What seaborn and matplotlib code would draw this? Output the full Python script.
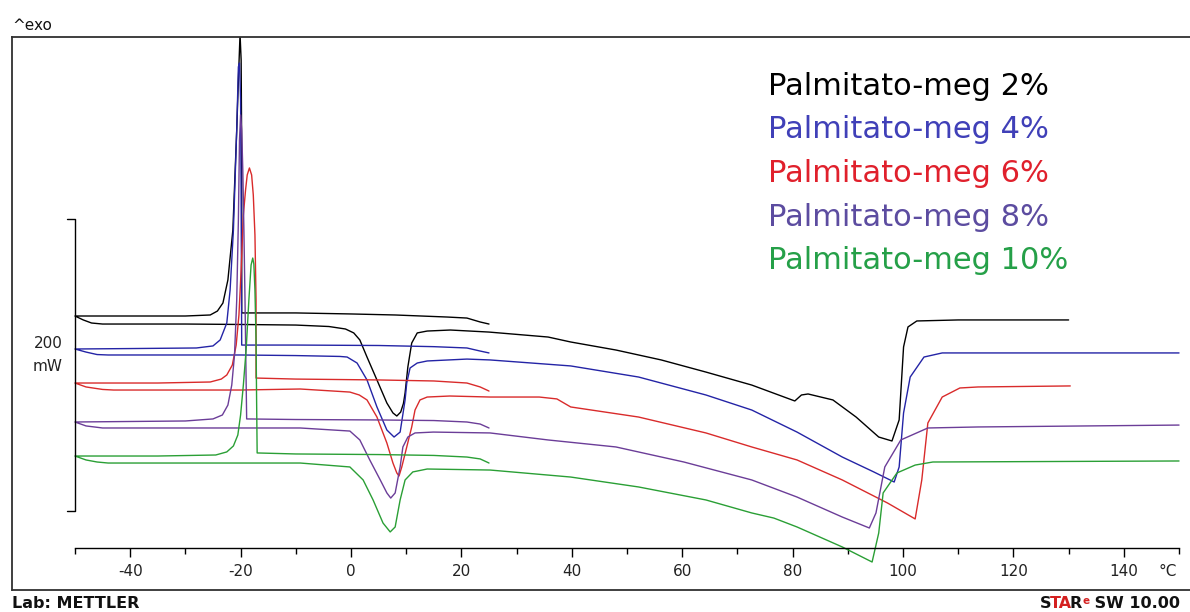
import matplotlib
matplotlib.use("Agg")
import matplotlib.pyplot as plt
import seaborn as sns

# ---------------- data (temperature in °C, heat flow in mW) ----------------
# Black: Palmitato-meg 2%
black_cool_T = [25, 23.4, 21, 17.4, 8, 0, -10, -19.8, -19.8, -19.9, -20.1, -20.4, -20.7, -21.4,
                -22.3, -23.2, -24.2, -25.5, -30, -40, -50]
black_cool_mW = [153.4, 154.8, 157.5, 158.2, 159.6, 160.3, 161.0, 161.0, 272.6, 334.2, 352.0, 320.5,
                 286.3, 217.8, 183.6, 167.8, 162.3, 159.6, 158.9, 158.9, 158.9]
black_heat_T = [-50, -48.5, -47, -45, -30, -20, -10, -4, -1, 0.5, 1.6, 2.9, 4.7, 6.5, 7.6, 8.3, 9.0,
                9.5, 9.8, 10.3, 11, 12, 13.8, 18, 25, 35.7, 39.8, 48, 56.2, 64.3, 72.6, 80.4, 81.6,
                82.8, 87.3, 91.5, 95.6, 98, 99.3, 100.1, 100.9, 102.5, 110, 130]
black_heat_mW = [158.9, 156.2, 154.1, 153.4, 153.4, 153.1, 152.7, 151.7, 150.0, 147.3, 142.5, 130.8,
                 115.1, 99.3, 92.5, 90.4, 93.1, 99.0, 106.2, 124.0, 140.4, 147.3, 148.6, 149.3,
                 147.9, 144.5, 141.1, 135.6, 128.8, 120.5, 111.6, 100.7, 104.8, 105.5, 101.4, 89.7,
                 76.0, 73.3, 87.7, 137.7, 151.4, 155.5, 156.2, 156.2]

# Blue: Palmitato-meg 4%
blue_cool_T = [25, 23.4, 21, 15, 5, -10, -19.8, -19.9, -20.0, -20.2, -20.4, -20.7, -21.3, -21.9,
               -22.5, -23.7, -25, -28, -40, -50]
blue_cool_mW = [133.6, 134.9, 137.0, 137.9, 138.7, 139.0, 139.0, 238.4, 306.8, 332.2, 329.5, 286.3,
                217.8, 176.7, 154.1, 142.5, 138.4, 137.0, 136.6, 136.3]
blue_heat_T = [-50, -48, -46, -44, -20, -10, -2, -0.7, 1.1, 2.9, 4.7, 6.5, 7.8, 8.9, 9.8, 10.1,
               10.7, 12, 13.8, 21, 25.2, 39.8, 52.1, 64.3, 72.6, 80.8, 89, 94.7, 98.4, 99.3, 100.1,
               101.3, 103.8, 107.1, 150]
blue_heat_mW = [136.3, 134.2, 132.5, 132.2, 132.2, 131.8, 131.2, 130.8, 126.7, 115.1, 96.6, 80.8,
                76.0, 79.4, 101.4, 113.0, 123.3, 126.7, 128.1, 129.4, 128.8, 124.7, 117.1, 104.8,
                94.5, 79.4, 62.3, 52.1, 45.2, 55.5, 92.5, 117.1, 130.8, 133.6, 133.6]

# Red: Palmitato-meg 6%
red_cool_T = [25, 23.4, 21, 15, 5, -10, -17.2, -17.2, -17.4, -17.7, -18.0, -18.4, -18.8, -19.1,
              -19.5, -19.9, -20.3, -20.8, -21.5, -22.5, -23.5, -25.5, -35, -50]
red_cool_mW = [107.5, 110.3, 113.0, 114.4, 115.1, 115.7, 116.4, 169.9, 214.4, 241.8, 255.5, 260.3,
               255.5, 245.2, 228.1, 190.4, 159.6, 139.0, 125.3, 118.5, 115.7, 113.7, 113.0, 113.0]
red_heat_T = [-50, -48, -45, -43, -20, -9.2, -0.2, 1.5, 2.9, 4.7, 6.5, 7.6, 8.3, 8.7, 9.2, 10.1,
              11, 11.6, 12.5, 13.8, 17.9, 25.2, 34.1, 37.3, 39.8, 52.1, 64.3, 72.6, 80.8, 89,
              97.2, 102.2, 103.4, 104.5, 107.1, 110.3, 113.6, 130.3]
red_heat_mW = [113.0, 110.3, 108.6, 108.2, 108.2, 108.9, 106.8, 104.8, 101.4, 89.7, 71.9, 58.2,
               51.4, 49.3, 55.5, 69.2, 82.9, 94.5, 101.4, 103.4, 104.1, 103.4, 103.4, 102.1, 96.6,
               89.7, 78.8, 69.2, 60.3, 46.6, 30.8, 19.9, 46.6, 85.6, 103.4, 109.6, 110.3, 111.0]

# Purple: Palmitato-meg 8%
purple_cool_T = [25, 23.4, 21, 15, 5, -10, -18.9, -19.0, -19.2, -19.4, -19.6, -19.8, -20.0, -20.2,
                 -20.4, -20.7, -21.1, -21.6, -22.3, -23.3, -25, -30, -50]
purple_cool_mW = [82.2, 84.9, 86.3, 87.3, 87.7, 88.0, 88.4, 115.1, 169.9, 217.8, 258.9, 286.3,
                  296.6, 279.4, 224.7, 169.9, 132.2, 111.6, 97.9, 91.1, 88.4, 87.0, 86.3]
purple_heat_T = [-50, -48, -45, -20, -9.2, -0.2, 1.6, 3.4, 5.3, 6.5, 7.2, 8.0, 8.9, 9.4, 10.3,
                 11.6, 14.9, 25.2, 35.7, 48, 60.3, 72.6, 80.8, 89, 93.9, 95.1, 96.7, 99.6, 104.5,
                 113.6, 150]
purple_heat_mW = [86.3, 83.6, 82.2, 82.2, 82.2, 80.1, 74.0, 60.3, 46.6, 37.7, 34.2, 37.7, 55.5,
                  69.2, 76.0, 78.8, 79.4, 78.8, 74.0, 69.2, 58.9, 46.6, 34.9, 21.2, 13.7, 24.0,
                  55.5, 74.0, 82.2, 82.9, 84.2]

# Green: Palmitato-meg 10%
green_cool_T = [25, 23.4, 21, 15, 5, -10, -17.0, -17.1, -17.2, -17.4, -17.6, -17.8, -18.1, -18.5,
                -19.0, -19.5, -20.0, -20.5, -21.3, -22.5, -24.5, -35, -50]
green_cool_mW = [58.2, 61.0, 62.3, 63.4, 64.0, 64.4, 65.1, 101.4, 142.5, 176.7, 194.5, 198.6,
                 193.8, 169.9, 135.6, 111.6, 91.1, 77.4, 69.9, 65.8, 63.7, 63.0, 63.0]
green_heat_T = [-50, -48, -46, -44, -20, -9.2, -0.2, 2.2, 4.0, 5.8, 7.1, 8.0, 8.9, 9.8, 11.2, 13.8,
                25.2, 39.8, 52.1, 64.3, 72.6, 76.6, 80.8, 89, 94.4, 95.6, 96.4, 98.9, 102.2, 105.4,
                150]
green_heat_mW = [63.0, 60.3, 58.9, 58.2, 58.2, 58.2, 55.5, 46.6, 32.9, 17.1, 11.0, 14.4, 32.9,
                 46.6, 52.1, 54.1, 53.4, 48.6, 41.8, 32.9, 24.0, 20.5, 14.4, 0.7, -9.6, 10.3, 37.7,
                 51.4, 56.8, 58.9, 59.6]

series_names = ["Palmitato-meg 2%", "Palmitato-meg 4%", "Palmitato-meg 6%",
                "Palmitato-meg 8%", "Palmitato-meg 10%"]
major_ticks = [-40, -20, 0, 20, 40, 60, 80, 100, 120, 140]
major_labels = ["-40", "-20", "0", "20", "40", "60", "80", "100", "120", "140"]
minor_ticks = [-50, -30, -10, 10, 30, 50, 70, 90, 110, 130, 150]
scale_bar_mW = [25, 225]          # 200 mW scale bar

# ---------------- styling ----------------
line_colors = ["#000000", "#2424a6", "#d92b2b", "#6b3d98", "#2a9f35"]
text_colors = ["#000000", "#4040b8", "#e0202c", "#5c4ca0", "#25a048"]

sns.set_theme(style="white")
plt.rcParams["font.family"] = ["DejaVu Sans"]
plt.rcParams["axes.unicode_minus"] = False

W, H = 1190, 612
fig = plt.figure(figsize=(W / 100, H / 100), dpi=100)
fig.patch.set_facecolor("white")
ax = fig.add_axes([12 / W, 22 / H, 1188 / W, 553 / H])
ax.set_facecolor("white")

curves = [
    (black_cool_T + black_heat_T, black_cool_mW + black_heat_mW),
    (blue_cool_T + blue_heat_T, blue_cool_mW + blue_heat_mW),
    (red_cool_T + red_heat_T, red_cool_mW + red_heat_mW),
    (purple_cool_T + purple_heat_T, purple_cool_mW + purple_heat_mW),
    (green_cool_T + green_heat_T, green_cool_mW + green_heat_mW),
]
for (tx, hy), col in zip(curves, line_colors):
    sns.lineplot(x=tx, y=hy, sort=False, estimator=None, color=col, linewidth=1.0, ax=ax)

# scale bar
ax.plot([-51.45, -50, -50, -51.45], [scale_bar_mW[1], scale_bar_mW[1], scale_bar_mW[0], scale_bar_mW[0]],
        color="black", lw=1.0)
ax.text(-54.9, 140.4, "200", ha="center", va="center", fontsize=11, color="#222222")
ax.text(-54.9, 124.0, "mW", ha="center", va="center", fontsize=11, color="#222222")

# frame / axis
for s in ["left", "top"]:
    ax.spines[s].set_visible(True)
    ax.spines[s].set_color("#303030")
    ax.spines[s].set_linewidth(1.3)
ax.spines["right"].set_visible(False)
ax.spines["bottom"].set_visible(True)
ax.spines["bottom"].set_position(("data", 0))
ax.spines["bottom"].set_bounds(-50, 150)
ax.spines["bottom"].set_color("black")
ax.spines["bottom"].set_linewidth(1.0)
ax.plot([0, 1], [0, 0], transform=ax.transAxes, color="#303030", lw=1.3, clip_on=False)

ax.set_xticks(major_ticks)
ax.set_xticklabels(major_labels)
ax.set_xticks(minor_ticks, minor=True)
ax.tick_params(axis="x", which="major", bottom=True, direction="out", length=6.5, width=1.0,
               pad=5, labelsize=11, colors="black", labelcolor="#222222")
ax.tick_params(axis="x", which="minor", bottom=True, direction="out", length=4.0, width=1.0,
               colors="black")
ax.tick_params(axis="y", left=False, labelleft=False)
ax.set_xlabel("")
ax.set_ylabel("")
ax.text(148.0, -16.4, "°C", ha="center", va="center", fontsize=11, color="#222222")

ax.set_xlim(-61.41, 153.8)
ax.set_ylim(-28.77, 350.0)

# legend-like labels
for i, (name, col) in enumerate(zip(series_names, text_colors)):
    fig.text(768 / W, 1 - (95 + 43.5 * i) / H, name, color=col, fontsize=22,
             ha="left", va="baseline")

# header / footer texts
fig.text(12 / W, 1 - 25 / H, "^exo", ha="left", va="center", fontsize=11, color="#111111")
fig.text(12 / W, 1 - 603 / H, "Lab: METTLER", ha="left", va="center", fontsize=11.5,
         weight="bold", color="#111111")
t1 = fig.text(1040 / W, 1 - 603 / H, "S", ha="left", va="center", fontsize=11.5, weight="bold",
              color="#111111")
t2 = ax.annotate("TA", xy=(1, 0), xycoords=t1, xytext=(-1.2, 0), textcoords="offset points",
                 ha="left", va="bottom", fontsize=11.5,
                 weight="bold", color="#d42020", annotation_clip=False)
t3 = ax.annotate("R", xy=(1, 0), xycoords=t2, xytext=(-1.5, 0), textcoords="offset points",
                 ha="left", va="bottom", fontsize=11.5,
                 weight="bold", color="#111111", annotation_clip=False)
t4 = ax.annotate("e", xy=(1, 1), xycoords=t3, ha="left", va="top", fontsize=7.5,
                 weight="bold", color="#d42020", annotation_clip=False)
t5 = ax.annotate(" SW 10.00", xy=(1, 0), xycoords=(t4, t3), ha="left", va="bottom", fontsize=11.5,
                 weight="bold", color="#111111", annotation_clip=False)

fig.savefig("out.png", dpi=100, facecolor="white")
